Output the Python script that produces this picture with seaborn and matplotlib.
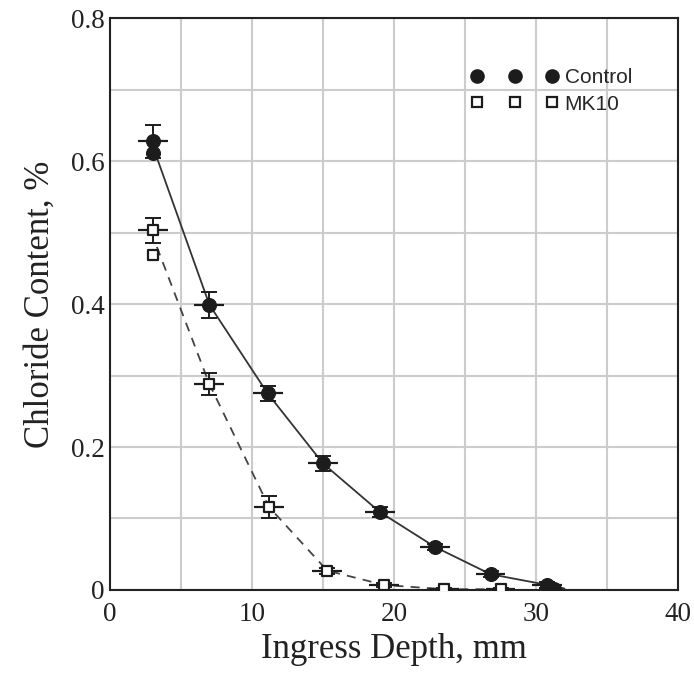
import numpy as np
import pandas as pd
import matplotlib
matplotlib.use("Agg")
import matplotlib.pyplot as plt
from matplotlib.lines import Line2D
import seaborn as sns

# ---- data ----
ctrl_x = [3.0, 7.0, 11.1, 15.0, 19.0, 22.9, 26.8, 30.8]
ctrl_y = [0.628, 0.399, 0.275, 0.177, 0.109, 0.060, 0.022, 0.007]
ctrl_yerr = [0.023, 0.018, 0.010, 0.010, 0.007, 0.004, 0.004, 0.004]
ctrl_extra_x = [3.0, 31.3]
ctrl_extra_y = [0.611, 0.002]
ctrl_line_x = [3.3, 7.0, 11.1, 15.0, 19.0, 22.9, 26.8, 30.8, 32.0]
ctrl_line_y = [0.605, 0.399, 0.275, 0.177, 0.109, 0.060, 0.022, 0.007, 0.002]

mk_x = [3.0, 7.0, 11.2, 15.3, 19.3, 23.5, 27.5]
mk_y = [0.503, 0.288, 0.116, 0.027, 0.007, 0.001, 0.001]
mk_yerr = [0.018, 0.015, 0.016, 0.004, 0.003, 0.002, 0.002]
mk_extra_x = [3.0]
mk_extra_y = [0.468]
mk_line_x = [3.3, 7.0, 11.2, 15.3, 19.3, 23.5, 27.5]
mk_line_y = [0.480, 0.288, 0.116, 0.027, 0.007, 0.001, 0.001]

xerr_half = 1.05
x_ticks = [0, 10, 20, 30, 40]
y_ticks = [0, 0.2, 0.4, 0.6, 0.8]
y_ticklabels = ["0", "0.2", "0.4", "0.6", "0.8"]

# ---- style ----
sns.set_style("whitegrid")
plt.rcParams["font.family"] = ["Liberation Serif", "DejaVu Serif"]

ink = "#1c1c1c"
fig = plt.figure(figsize=(6.94, 6.75), dpi=100)
ax = fig.add_axes([0.1585, 0.126, 0.8185, 0.847])

# lines
sns.lineplot(x=ctrl_line_x, y=ctrl_line_y, ax=ax, color="#333333", lw=1.3,
             linestyle="-", sort=False)
sns.lineplot(x=mk_line_x, y=mk_line_y, ax=ax, color="#444444", lw=1.3,
             sort=False, dashes=False, linestyle=(0, (5, 4)))

# error bars
for xs, ys, ye in [(ctrl_x, ctrl_y, ctrl_yerr), (mk_x, mk_y, mk_yerr)]:
    ax.errorbar(xs, ys, yerr=ye, fmt="none", ecolor=ink, elinewidth=1.4,
                capsize=6, capthick=1.4, zorder=4)
    ax.errorbar(xs, ys, xerr=xerr_half, fmt="none", ecolor=ink,
                elinewidth=1.6, capsize=0, zorder=4)

# markers
sns.scatterplot(x=ctrl_x + ctrl_extra_x, y=ctrl_y + ctrl_extra_y, ax=ax,
                marker="o", s=100, color=ink, edgecolor=ink, zorder=5)
sns.scatterplot(x=mk_x + mk_extra_x, y=mk_y + mk_extra_y, ax=ax,
                marker="s", s=55, facecolor="white", edgecolor=ink,
                linewidth=1.6, zorder=5)

ax.set_xlim(0, 40)
ax.set_ylim(0, 0.8)
ax.set_xticks(x_ticks)
ax.set_xticks(np.arange(5, 40, 10), minor=True)
ax.set_yticks(y_ticks)
ax.set_yticklabels(y_ticklabels)
ax.set_yticks(np.arange(0.1, 0.8, 0.2), minor=True)
ax.grid(True, which="both", color="#cccccc", lw=1.5)
ax.tick_params(which="both", length=0, labelsize=19.5, colors="#222222")
ax.tick_params(axis="y", pad=4)
ax.tick_params(axis="x", pad=9)
for s in ax.spines.values():
    s.set_color("#222222")
    s.set_linewidth(1.5)
ax.set_axisbelow(True)

ax.set_xlabel("Ingress Depth, mm", fontsize=25, color="#222222", labelpad=4)
ax.set_ylabel("Chloride Content, %", fontsize=25, color="#222222", labelpad=10)

handles = [
    Line2D([], [], marker="o", linestyle="none", color=ink, markersize=9.5),
    Line2D([], [], marker="s", linestyle="none", markerfacecolor="white",
           markeredgecolor=ink, markeredgewidth=1.6, markersize=7.5),
]
leg = ax.legend(handles, ["Control", "MK10"], numpoints=3, frameon=False,
                loc="upper right", bbox_to_anchor=(0.952, 0.946),
                handlelength=4.2, handletextpad=0.3, labelspacing=0.38,
                prop={"family": ["Liberation Sans", "DejaVu Sans"], "size": 15})

fig.savefig("out.png", dpi=100)
